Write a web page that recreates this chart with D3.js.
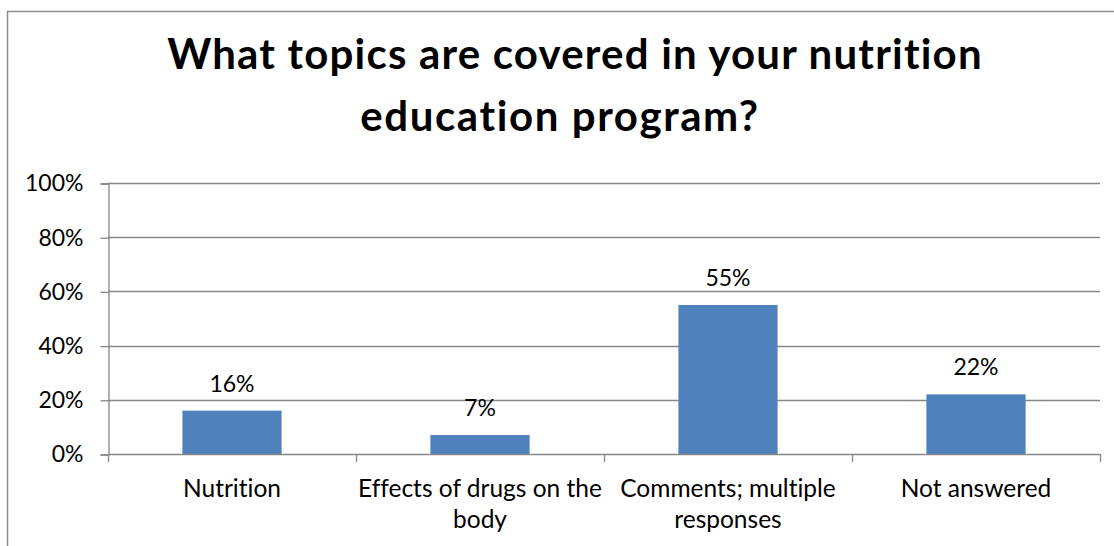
<!DOCTYPE html>
<html>
<head>
<meta charset="utf-8">
<script src="https://cdn.jsdelivr.net/npm/d3@7"></script>
<style>
  html, body { margin: 0; padding: 0; background: #fff; }
  svg { display: block; }
  text { font-family: Lato, "Open Sans", sans-serif; fill: #000; font-variant-ligatures: none; font-feature-settings: "liga" 0, "clig" 0; }
</style>
</head>
<body>
<svg id="chart" width="1114" height="546"></svg>
<script>
const titleLines = ["What topics are covered in your nutrition", "education program?"];
const categories = ["Nutrition", "Effects of drugs on the body", "Comments; multiple responses", "Not answered"];
const categoryLines = [["Nutrition"], ["Effects of drugs on the", "body"], ["Comments; multiple", "responses"], ["Not answered"]];
const values = [0.16, 0.07, 0.55, 0.22];
const yTicks = [0, 0.2, 0.4, 0.6, 0.8, 1.0];

const svg = d3.select("#chart");
const gridColor = "#868686";
const barColor = "#4F81BD";

// outer chart border
svg.append("rect")
  .attr("x", 7.5).attr("y", 11.5)
  .attr("width", 1200).attr("height", 700)
  .attr("fill", "none").attr("stroke", "#8c8c8c").attr("stroke-width", 1.5);

// title
svg.append("g").selectAll("text").data(titleLines).join("text")
  .attr("x", (d, i) => i === 0 ? 575 : 560)
  .attr("y", (d, i) => 69 + i * 62)
  .attr("text-anchor", "middle")
  .attr("font-weight", "bold")
  .attr("font-size", 42)
  .attr("letter-spacing", (d, i) => i === 0 ? 1.2 : 1.6)
  .text(d => d);

const x = d3.scaleBand().domain(categories).range([108, 1100]).paddingInner(0.6).paddingOuter(0.3);
const slot = d3.scaleBand().domain(categories).range([108, 1100]).padding(0);
const y = d3.scaleLinear().domain([0, 1]).range([454, 183]);

// gridlines
svg.append("g").selectAll("line").data(yTicks.filter(t => t > 0)).join("line")
  .attr("x1", 108).attr("x2", 1100)
  .attr("y1", d => Math.round(y(d)) + 0.5).attr("y2", d => Math.round(y(d)) + 0.5)
  .attr("stroke", gridColor).attr("stroke-width", 1.3);

// y axis
const yAxis = svg.append("g").attr("transform", "translate(108.5,0.5)")
  .call(d3.axisLeft(y).tickValues(yTicks).tickFormat(d3.format(".0%")).tickSize(8).tickPadding(17));
yAxis.select(".domain").attr("stroke", gridColor).attr("stroke-width", 1.3);
yAxis.selectAll(".tick line").attr("stroke", gridColor).attr("stroke-width", 1.3);
yAxis.selectAll(".tick text").attr("font-size", 23).attr("font-family", "Lato, 'Open Sans', sans-serif").attr("fill", "#000");

// bars
svg.append("g").selectAll("rect").data(values).join("rect")
  .attr("x", (d, i) => x(categories[i]))
  .attr("y", d => y(d))
  .attr("width", x.bandwidth())
  .attr("height", d => y(0) - y(d))
  .attr("fill", barColor);

// data labels
svg.append("g").selectAll("text").data(values).join("text")
  .attr("x", (d, i) => x(categories[i]) + x.bandwidth() / 2)
  .attr("y", d => y(d) - 19)
  .attr("text-anchor", "middle")
  .attr("font-size", 23)
  .text(d => d3.format(".0%")(d));

// x axis line and ticks
const xAxisG = svg.append("g");
xAxisG.append("line")
  .attr("x1", 108).attr("x2", 1100)
  .attr("y1", y(0) + 0.5).attr("y2", y(0) + 0.5)
  .attr("stroke", gridColor).attr("stroke-width", 1.3);
const bounds = categories.map(c => slot(c)).concat([slot.range()[1]]);
xAxisG.selectAll("line.tk").data(bounds).join("line")
  .attr("class", "tk")
  .attr("x1", d => Math.round(d) + 0.5).attr("x2", d => Math.round(d) + 0.5)
  .attr("y1", y(0)).attr("y2", y(0) + 8)
  .attr("stroke", gridColor).attr("stroke-width", 1.3);

// category labels
const catG = xAxisG.selectAll("text.cat").data(categories).join("text")
  .attr("class", "cat")
  .attr("text-anchor", "middle")
  .attr("font-size", 24.5);
catG.each(function(c, i) {
  const cx = slot(c) + slot.bandwidth() / 2;
  d3.select(this).selectAll("tspan").data(categoryLines[i]).join("tspan")
    .attr("x", cx)
    .attr("y", (d, j) => 497 + j * 31)
    .text(d => d);
});
</script>
</body>
</html>
